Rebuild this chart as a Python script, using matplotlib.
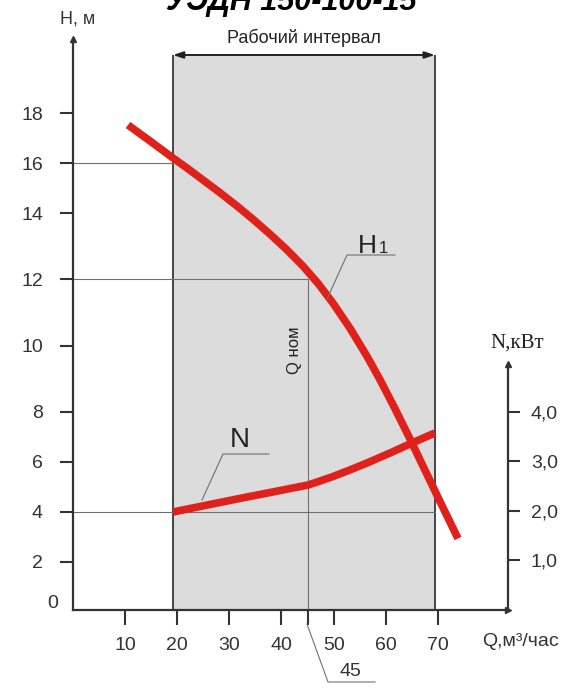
import matplotlib
matplotlib.use('Agg')
import matplotlib.pyplot as plt
import matplotlib.transforms as mtrans
import numpy as np

plt.rcParams['font.family'] = ['Liberation Sans', 'DejaVu Sans']

# head curve H1, m  vs  flow Q, m3/h
q_head = [10.58, 14.80, 19.21, 22.47, 25.34, 28.22, 31.47, 34.54, 37.80, 40.87, 44.13,
          47.00, 49.87, 53.13, 56.39, 58.88, 61.76, 64.64, 67.51, 70.39, 73.84]
h_head = [17.52, 16.88, 16.20, 15.71, 15.26, 14.81, 14.28, 13.81, 13.36, 12.91, 12.39,
          11.87, 11.28, 10.53, 9.69, 8.98, 8.10, 6.92, 5.67, 4.42, 2.94]

# power curve N, kW
q_power = [19.21, 25.34, 31.47, 37.8, 45.1, 47.4, 49.9, 53.1, 56.4, 60.8, 64.6, 69.4]
n_power = [1.976, 2.107, 2.238, 2.369, 2.52, 2.601, 2.692, 2.823, 2.964, 3.165, 3.347, 3.569]

q_ticks = [10, 20, 30, 40, 45, 50, 60, 70]
q_ticklabels = ['10', '20', '30', '40', '', '50', '60', '70']
h_ticks = [2, 4, 6, 8, 10, 12, 14, 16, 18]
n_ticks = [1.0, 2.0, 3.0, 4.0]
n_ticklabels = ['1,0', '2,0', '3,0', '4,0']

q_work = [19.2, 69.4]          # working interval
q_nom = 45                     # nominal flow
ref_lines = [(16, 19.2), (12, 45), (4, 69.4)]   # (H, Q where the thin line stops)

# the H axis of the drawing is not evenly spaced, so map it piecewise
h_knots = [-10, 0, 2, 4, 6, 8, 10, 12, 14, 16, 18, 20, 22]
pos_knots = [-250, 0, 48, 98, 148, 198, 264, 331, 397, 447, 497, 547, 597]


def fwd(h):
    return np.interp(h, h_knots, pos_knots)


def inv(p):
    return np.interp(p, pos_knots, h_knots)


def main():
    W, H = 584, 688
    fig = plt.figure(figsize=(W / 100, H / 100), dpi=100)
    px = mtrans.Affine2D().scale(1 / W, -1 / H).translate(0, 1) + fig.transFigure

    axc = '#333333'
    red = '#e0201b'
    thin = '#707070'

    ax = fig.add_axes([72.8 / W, 78 / H, 435.2 / W, 571 / H])
    ax.set_yscale('function', functions=(fwd, inv))
    qmax = 435.2 / 5.217
    ax.set_xlim(0, qmax)
    htop = inv(571)
    ax.set_ylim(0, htop)
    ax.patch.set_visible(False)

    ax2 = ax.twinx()
    ax2.set_ylim(0, 571 / 49.6)

    for s in ['top', 'right']:
        ax.spines[s].set_visible(False)
    for s in ['top', 'left', 'bottom']:
        ax2.spines[s].set_visible(False)
    for a in (ax, ax2):
        for s in a.spines.values():
            s.set_color(axc)
            s.set_linewidth(1.6)
    ax2.spines['right'].set_bounds(0, 4.95)

    # arrow heads on the axes
    ax.plot([0], [htop], marker='^', ms=5, color=axc, clip_on=False)
    ax.plot([qmax], [0], marker='>', ms=5, color=axc, clip_on=False)
    ax2.plot([qmax], [4.95], marker='^', ms=5, color=axc, clip_on=False)

    # working interval box
    hbox = inv(555)
    ax.fill_between(q_work, 0, hbox, color='#dcdcdc', lw=0, zorder=0)
    ax.vlines(q_work, 0, hbox, color='#444444', lw=1.4, zorder=1)
    ax.annotate('', xy=(q_work[0], hbox), xytext=(q_work[1], hbox),
                arrowprops=dict(arrowstyle='<|-|>,head_length=0.6,head_width=0.2',
                                color='#222222', lw=1.4, shrinkA=0, shrinkB=0))
    ax.annotate('Рабочий интервал', xy=(sum(q_work) / 2, hbox), xytext=(0, 6),
                textcoords='offset points', ha='center', va='bottom', fontsize=13, color='#222222')

    # thin reference lines
    for h, q in ref_lines:
        ax.plot([0, q], [h, h], color=thin, lw=0.8, zorder=1)
    ax.plot([q_nom, q_nom], [0, 12], color=thin, lw=0.8, zorder=1)

    # curves
    ax.plot(q_head, h_head, color=red, lw=5.5, solid_capstyle='butt',
            solid_joinstyle='round', zorder=3)
    ax2.plot(q_power, n_power, color=red, lw=5.5, solid_capstyle='butt',
             solid_joinstyle='round', zorder=3)

    # ticks
    ax.set_xticks(q_ticks)
    ax.set_xticklabels(q_ticklabels)
    ax.set_yticks(h_ticks)
    ax.set_yticklabels([str(t) for t in h_ticks])
    ax.yaxis.set_minor_locator(plt.NullLocator())
    ax.tick_params(axis='y', direction='out', length=9.5, width=1.5, pad=12,
                   labelsize=14, colors=axc)
    ax.tick_params(axis='x', direction='out', length=10.5, width=1.5, pad=9,
                   labelsize=14, colors=axc)
    ax2.set_yticks(n_ticks)
    ax2.set_yticklabels(n_ticklabels)
    ax2.tick_params(axis='y', direction='out', length=8.5, width=1.5, pad=8,
                    labelsize=14, colors=axc)

    # labels and leaders (drawing coordinates)
    fig.text(291 / W, 1 - 10 / H, 'УЭДН 150-100-15', ha='center', va='baseline',
             fontsize=22, fontweight='bold', style='italic')
    fig.text(53, 603, '0', transform=px, ha='center', va='center', fontsize=14, color=axc)
    fig.text(78, 19, 'Н, м', transform=px, ha='center', va='center', fontsize=13, color=axc)
    fig.text(517, 343, 'N,кВт', transform=px, ha='center', va='center', fontsize=15,
             family='Liberation Serif', color='#222222')
    fig.text(520, 641, 'Q,м³/час', transform=px, ha='center', va='center', fontsize=14, color=axc)
    fig.text(294, 350, 'Q ном', transform=px, ha='center', va='center', rotation=90,
             fontsize=12, color='#222222')

    leaders = [[(202, 500), (223, 454), (269, 454)],
               [(327, 299), (347, 255), (395, 255)],
               [(307, 624), (328, 682), (375, 682)]]
    for pts in leaders:
        xs, ys = zip(*pts)
        fig.add_artist(plt.Line2D(xs, ys, transform=px, color=thin, lw=0.8))
    fig.text(240, 440, 'N', transform=px, ha='center', va='center', fontsize=20, color='#222222')
    fig.text(367, 253, 'H', transform=px, ha='center', va='baseline', fontsize=19, color='#222222')
    fig.text(383, 253, '1', transform=px, ha='center', va='baseline', fontsize=12, color='#222222')
    fig.text(350, 672, '45', transform=px, ha='center', va='center', fontsize=14, color=axc)

    fig.savefig('out.png', dpi=100)


main()
